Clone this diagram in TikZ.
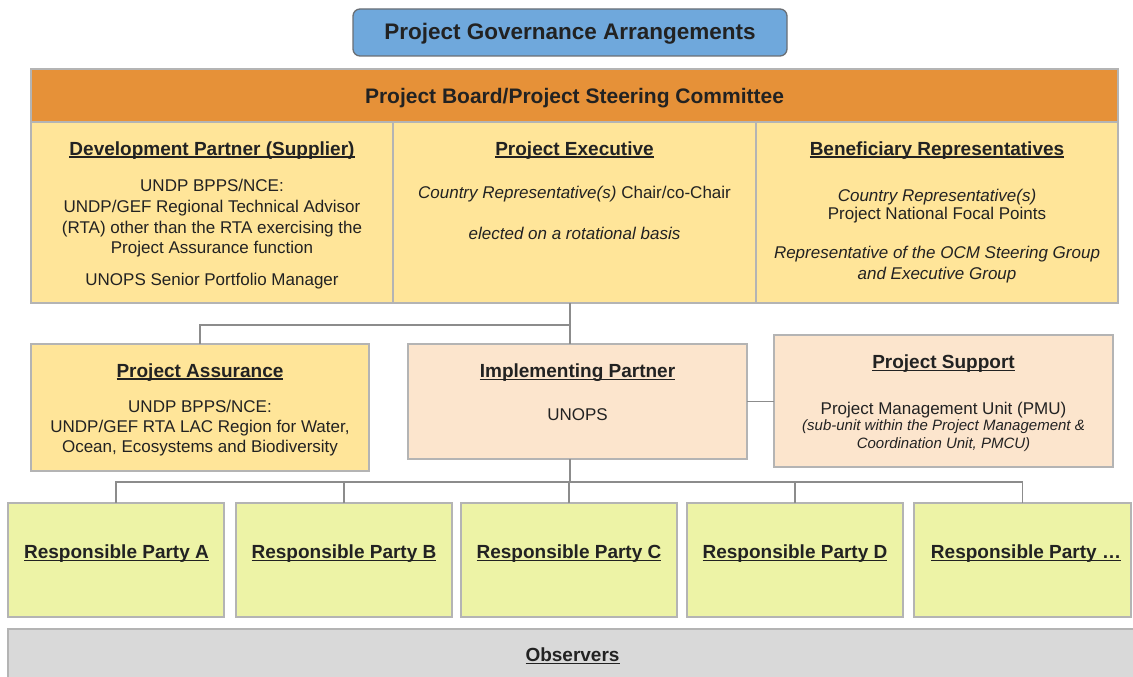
\documentclass[tikz,border=0pt]{standalone}
\usepackage{fontspec}
\setmainfont{Liberation Sans}
\definecolor{titleblue}{HTML}{6FA8DC}
\definecolor{titleborder}{HTML}{6A6F75}
\definecolor{boardorange}{HTML}{E69138}
\definecolor{boardyellow}{HTML}{FFE599}
\definecolor{peach}{HTML}{FCE5CD}
\definecolor{lime}{HTML}{EDF3A6}
\definecolor{obsgray}{HTML}{D9D9D9}
\definecolor{bordergray}{HTML}{B4B4B4}
\definecolor{linegray}{HTML}{8C8C8C}
\definecolor{txtdark}{HTML}{222222}
\newcommand\fsz[2]{\fontsize{#1}{#2}\selectfont}
\newsavebox\ulbox
\newcommand\ulh[1]{\sbox\ulbox{#1}\rlap{\rule[-2.6pt]{\wd\ulbox}{1.4pt}}\usebox\ulbox}
\begin{document}
\begin{tikzpicture}[x=1pt,y=-1pt,
  box/.style={draw=bordergray, line width=1.3pt, inner sep=0pt, outer sep=0pt},
  lbl/.style={inner sep=0pt, outer sep=0pt, anchor=north, align=center, text=txtdark},
  body/.style={lbl, font=\fsz{17}{20.7}},
  head/.style={lbl, font=\bfseries\fsz{19}{22}},
  conn/.style={draw=linegray, line width=1.8pt}]
\useasboundingbox (0,0) rectangle (1133,677);

% title
\node[box, fill=titleblue, draw=titleborder, rounded corners=7pt, minimum width=434pt, minimum height=47pt] (title) at (570,32.5) {};
\node[lbl, font=\bfseries\fsz{22.5}{26}] (titletext) at (570,23.3) {Project Governance Arrangements};

% board
\node[box, fill=boardorange, minimum width=1087pt, minimum height=53pt] (board) at (574.5,95.5) {};
\node[box, fill=boardyellow, minimum width=362pt, minimum height=181pt] (dev) at (212,212.5) {};
\node[box, fill=boardyellow, minimum width=363pt, minimum height=181pt] (exec) at (574.5,212.5) {};
\node[box, fill=boardyellow, minimum width=362pt, minimum height=181pt] (bene) at (937,212.5) {};

\node[lbl, font=\bfseries\fsz{21}{24}] (boardtext) at (574.5,88.3) {Project Board/Project Steering Committee};
\node[head] (devh) at (212,141.5) {\ulh{Development Partner (Supplier)}};
\node[body] (devb) at (212,179.5) {UNDP BPPS/NCE:\\UNDP/GEF Regional Technical Advisor\\(RTA) other than the RTA exercising the\\Project Assurance function};
\node[body] (devc) at (212,273.3) {UNOPS Senior Portfolio Manager};
\node[head] (exech) at (574.5,141.5) {\ulh{Project Executive}};
\node[body] (execb) at (574.5,186) {\textit{Country Representative(s)} Chair/co-Chair};
\node[body, font=\itshape\fsz{17}{20.7}] (execc) at (574.5,226.7) {elected on a rotational basis};
\node[head] (beneh) at (937,141.5) {\ulh{Beneficiary Representatives}};
\node[body, font=\fsz{17}{18.3}] (beneb) at (937,189) {\textit{Country Representative(s)}\\Project National Focal Points};
\node[body, font=\itshape\fsz{17}{20.7}] (benec) at (937,246) {Representative of the OCM Steering Group\\and Executive Group};

% middle row
\node[box, fill=boardyellow, minimum width=338pt, minimum height=127pt] (pa) at (200,407.5) {};
\node[box, fill=peach, minimum width=339pt, minimum height=115pt] (ip) at (577.5,401.5) {};
\node[box, fill=peach, minimum width=339pt, minimum height=132pt] (ps) at (943.5,401) {};

\node[head] (pah) at (200,363.5) {\ulh{Project Assurance}};
\node[body, font=\fsz{17}{20}] (pab) at (200,400) {UNDP BPPS/NCE:\\UNDP/GEF RTA LAC Region for Water,\\Ocean, Ecosystems and Biodiversity};
\node[head] (iph) at (577.5,364) {\ulh{Implementing Partner}};
\node[body] (ipb) at (577.5,409) {UNOPS};
\node[head] (psh) at (943.5,355) {\ulh{Project Support}};
\node[body] (psb) at (943.5,401.7) {Project Management Unit (PMU)};
\node[body, font=\itshape\fsz{15}{17.3}] (psc) at (943.5,420) {(sub-unit within the Project Management \&\\Coordination Unit, PMCU)};

% responsible parties
\node[box, fill=lime, minimum width=216pt, minimum height=114pt] (rpa) at (116,560) {};
\node[box, fill=lime, minimum width=216pt, minimum height=114pt] (rpb) at (344,560) {};
\node[box, fill=lime, minimum width=216pt, minimum height=114pt] (rpc) at (569,560) {};
\node[box, fill=lime, minimum width=216pt, minimum height=114pt] (rpd) at (795,560) {};
\node[box, fill=lime, minimum width=217pt, minimum height=114pt] (rpe) at (1022.5,560) {};
\node[head] (rpat) at (116.5,545) {\ulh{Responsible Party A}};
\node[head] (rpbt) at (344,545) {\ulh{Responsible Party B}};
\node[head] (rpct) at (569,545) {\ulh{Responsible Party C}};
\node[head] (rpdt) at (795,545) {\ulh{Responsible Party D}};
\node[head] (rpet) at (1026,545) {\ulh{Responsible Party …}};

% observers
\node[box, fill=obsgray, minimum width=1129pt, minimum height=60pt] (obs) at (572.5,659) {};
\node[head] (obst) at (572.5,648) {\ulh{Observers}};

% connectors
\coordinate (j1) at (570,325);
\coordinate (j2) at (570,482);
\draw[conn] (exec.south -| j1) -- (j1 |- ip.north);
\draw[conn] (j1) -| (pa.north);
\draw[conn] (ip.east) -- (ip.east -| ps.west);
\draw[conn] (ip.south -| j2) -- (j2);
\draw[conn] (rpa.north) -- (rpa.north |- j2) -- (rpe.north |- j2) -- (rpe.north);
\foreach \n in {rpb,rpc,rpd} {\draw[conn] (\n.north) -- (\n.north |- j2);}
\end{tikzpicture}
\end{document}
